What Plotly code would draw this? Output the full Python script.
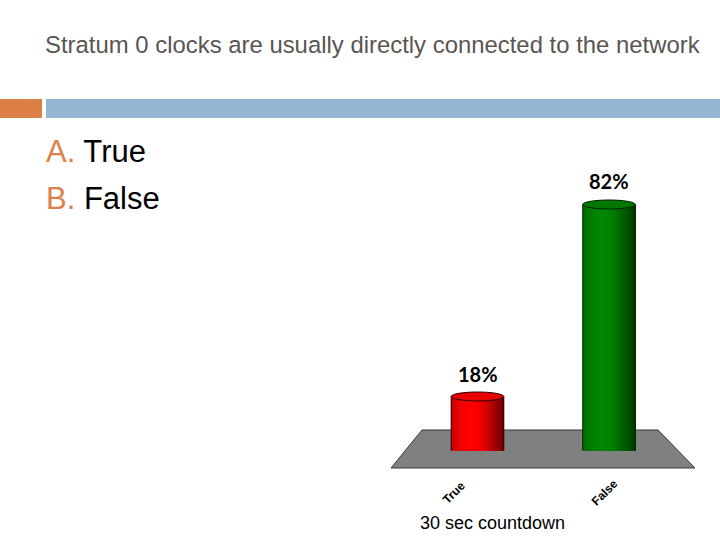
import math
import plotly.graph_objects as go

# ---- data ----
categories = ["True", "False"]
values = [18, 82]
value_labels = ["18%", "82%"]
title_text = "Stratum 0 clocks are usually directly connected to the network"
options = [("A.", "True"), ("B.", "False")]
footer_text = "30 sec countdown"

# ---- styling ----
W, H = 720, 540
base_rgb = [(255, 0, 0), (0, 135, 0)]
cap_colors = ["#E60000", "#007800"]
bottom_colors = ["#C80000", "#006400"]
edge_colors = ["#300000", "#002000"]
label_xshift = [-24, -5]
bar_w = 0.40
xpos = list(range(len(categories)))

def shade(rgb, f):
    return "rgb(%d,%d,%d)" % tuple(max(0, min(255, int(c * f))) for c in rgb)

fig = go.Figure()

# cylinder bodies: overlapping strips (each runs to the right edge) for smooth shading
N = 16
for i in range(N):
    t = (i + 0.5) / N
    ang = (t - 0.5) * math.pi
    f = 0.6 + 0.4 * math.cos(ang + 0.45)
    cols = [shade(c, f) for c in base_rgb]
    fig.add_trace(go.Bar(
        x=xpos, y=values, width=bar_w * (N - i) / N,
        offset=-bar_w / 2 + i * bar_w / N,
        marker=dict(color=cols, line=dict(width=0)),
        hoverinfo="skip", showlegend=False,
    ))

shapes = []
# floor (3D base)
shapes.append(dict(type="path", xref="paper", yref="paper", layer="below",
                   path="M %f,%f L %f,%f L %f,%f L %f,%f Z" % (
                       422 / W, 1 - 430 / H, 658 / W, 1 - 430 / H,
                       695 / W, 1 - 468 / H, 391 / W, 1 - 468 / H),
                   fillcolor="#808080", line=dict(color="#3a3a3a", width=1)))
eh = 1.5
for k, (x, v) in enumerate(zip(xpos, values)):
    shapes.append(dict(type="circle", xref="x", yref="y", layer="below",
                       x0=x - bar_w / 2, x1=x + bar_w / 2, y0=-eh, y1=eh,
                       fillcolor=bottom_colors[k], line=dict(color=edge_colors[k], width=1)))
    for sx in (x - bar_w / 2, x + bar_w / 2):
        shapes.append(dict(type="line", xref="x", yref="y", layer="above",
                           x0=sx, x1=sx, y0=0, y1=v,
                           line=dict(color=edge_colors[k], width=1)))
    shapes.append(dict(type="circle", xref="x", yref="y", layer="above",
                       x0=x - bar_w / 2, x1=x + bar_w / 2, y0=v - eh, y1=v + eh,
                       fillcolor=cap_colors[k], line=dict(color=edge_colors[k], width=1)))

# slide decorations
shapes.append(dict(type="rect", xref="paper", yref="paper", x0=0, x1=42 / W,
                   y0=1 - 118 / H, y1=1 - 99 / H, fillcolor="#DD8047", line=dict(width=0)))
shapes.append(dict(type="rect", xref="paper", yref="paper", x0=46 / W, x1=1,
                   y0=1 - 118 / H, y1=1 - 99 / H, fillcolor="#94B6D2", line=dict(width=0)))

annotations = []
annotations.append(dict(text=title_text, xref="paper", yref="paper", x=43 / W, y=1 - 44 / H,
                        xanchor="left", yanchor="middle", showarrow=False,
                        font=dict(family="Liberation Sans, Arial", size=23.9, color="#5A5552")))
for j, (letter, opt) in enumerate(options):
    annotations.append(dict(
        text="<span style='color:#DD8047'>%s</span> %s" % (letter, opt),
        xref="paper", yref="paper", x=44 / W, y=1 - (152 + 46 * j) / H,
        xanchor="left", yanchor="middle", showarrow=False,
        font=dict(family="Liberation Sans, Arial", size=31, color="#000000")))
for x, v, lab in zip(xpos, values, value_labels):
    annotations.append(dict(text="<b>%s</b>" % lab, x=x, y=v, xref="x", yref="y",
                            yshift=23, showarrow=False, xanchor="center", yanchor="middle",
                            font=dict(family="Lato, Carlito, sans-serif", size=20, color="#000000")))
for k, (x, c) in enumerate(zip(xpos, categories)):
    annotations.append(dict(text="<b>%s</b>" % c, x=x, y=0, xref="x", yref="y",
                            yshift=-42, xshift=label_xshift[k], showarrow=False, textangle=-45,
                            xanchor="center", yanchor="middle",
                            font=dict(family="Liberation Sans, Arial", size=12, color="#000000")))
annotations.append(dict(text=footer_text, xref="paper", yref="paper", x=492 / W, y=1 - 523 / H,
                        xanchor="center", yanchor="middle", showarrow=False,
                        font=dict(family="Liberation Sans, Arial", size=18, color="#000000")))

fig.update_layout(
    width=W, height=H, autosize=False,
    margin=dict(l=0, r=0, t=0, b=0),
    paper_bgcolor="white", plot_bgcolor="rgba(0,0,0,0)",
    barmode="overlay", bargap=0,
    xaxis=dict(domain=[411.75 / W, 674.75 / W], range=[-0.5, 1.5], visible=False, fixedrange=True),
    yaxis=dict(domain=[(H - 450.5) / H, (H - 150.5) / H], range=[0, 100], visible=False, fixedrange=True),
    shapes=shapes, annotations=annotations, showlegend=False,
)

fig.write_html("out.html", config={"displayModeBar": False},
               post_script="document.body.style.margin='0';document.body.style.overflow='hidden';")
